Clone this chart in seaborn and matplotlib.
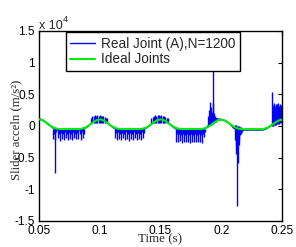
import numpy as np
import pandas as pd
import matplotlib
matplotlib.use("Agg")
import matplotlib.pyplot as plt
import seaborn as sns
from matplotlib.ticker import FuncFormatter, FixedLocator

# ---------------- data (m/s^2) ----------------
t_start, t_end, n_samples = 0.05, 0.25, 81
ideal_accel = [
    1050, 930, 650, 290, -50, -300, -440, -480, -480, -470, -460, -470, -480, -480, -440, -300, -50, 290, 650, 930,
    1050, 930, 650, 290, -50, -300, -440, -480, -480, -470, -460, -470, -480, -480, -440, -300, -50, 290, 650, 930,
    1050, 930, 650, 290, -50, -300, -440, -480, -480, -470, -460, -470, -480, -480, -440, -300, -50, 290, 650, 930,
    980, 880, 620, 270, -60, -310, -450, -490, -500, -490, -480, -490, -500, -490, -450, -310, -60, 270, 620, 900,
    1000,
]
real_accel = [
    1150, 1000, 700, 300, -100, -450, -600, -650, -650, -640, -630, -640, -650, -650, -600, -420, -80, 320, 750, 1050,
    1200, 1000, 700, 300, -100, -450, -600, -650, -650, -640, -630, -640, -650, -650, -600, -420, -80, 320, 750, 1050,
    1200, 1000, 700, 300, -100, -450, -600, -650, -650, -640, -630, -640, -650, -650, -600, -300, 200, 800, 1200, 1100,
    1050, 900, 650, 250, -300, -600, -650, -650, -650, -640, -630, -640, -650, -640, -600, -400, -80, 300, 700, 1000,
    1100,
]

# spikes of the real joint: (time window, spike tips, spike roots)
trough1_window = (0.0618, 0.0868)
trough1_tips = [-2100, -1200, -2200, -1000, -1900, -1300, -2300, -1100, -2000, -1200,
                -2150, -1000, -1950, -1250, -2250, -1100, -2050, -1300, -2200, -1000,
                -1900, -1200, -2100, -1100, -2000, -1300, -2250, -1000, -1850, -1200]
trough2_window = (0.1128, 0.1365)
trough2_tips = [-1900, -1100, -2200, -1000, -2100, -1300, -2250, -1100, -1950, -1200,
                -2200, -1000, -2000, -1300, -2300, -1100, -2100, -1200, -2150, -1000,
                -1950, -1300, -2200, -1100, -2050, -1200, -2250, -1000, -1900, -1100]
trough3_window = (0.1625, 0.1868)
trough3_tips = [-2500, -1300, -2600, -1200, -2400, -1500, -2650, -1300, -2450, -1400,
                -2600, -1200, -2500, -1500, -2700, -1300, -2550, -1400, -2600, -1200,
                -2450, -1500, -2600, -1300, -2500, -1400, -2650, -1200, -1800, -1000]
trough_root = -480

peak1_window = (0.0930, 0.1060)
peak1_tips = [1300, 1500, 1600, 1700, 1650, 1700, 1600, 1700, 1650, 1550, 1500, 1400, 1300, 1200]
peak2_window = (0.1425, 0.1560)
peak2_tips = [1300, 1450, 1600, 1700, 1650, 1700, 1700, 1650, 1700, 1600, 1500, 1400, 1300, 1200]
peak_root = 500

event_times = [0.0629,
               0.1895, 0.1902, 0.1908, 0.1915, 0.1921, 0.1928, 0.1934, 0.1940, 0.1947, 0.1953,
               0.2112, 0.2118, 0.2124, 0.2130, 0.2136, 0.2142, 0.2148, 0.2155, 0.2162, 0.2168,
               0.2415, 0.2422, 0.2430, 0.2438, 0.2446, 0.2454, 0.2462, 0.2470, 0.2478, 0.2486, 0.2494, 0.2500]
event_tips = [-7400,
              1500, 2500, 3800, 3000, 2200, 10000, 3600, 2000, 1500, 1300,
              -2200, -3000, -4500, -12700, -5800, -3000, -2200, -1500, -1200, -1000,
              5400, 3000, 3300, 3600, 3200, 3500, 3400, 3600, 3100, 3500, 3300, 3200]
event_roots = [-480,
               100, 100, 200, 200, 300, 300, 400, 500, 600, 700,
               200, 150, 100, 50, 0, -50, -100, -150, -200, -250,
               0, 0, 50, 100, 150, 200, 250, 300, 350, 400, 450, 500]

legend_labels = ["Real Joint (A),N=1200", "Ideal Joints"]
x_ticks = [0.05, 0.1, 0.15, 0.2, 0.25]
y_ticks = [-15000, -10000, -5000, 0, 5000, 10000, 15000]

# ---------------- build tables ----------------
time = np.linspace(t_start, t_end, n_samples)
df = pd.DataFrame({"time": time, "ideal": ideal_accel, "real": real_accel})

spk_t, spk_lo, spk_hi = [], [], []
for (a, b), tips, root in [(trough1_window, trough1_tips, trough_root),
                           (trough2_window, trough2_tips, trough_root),
                           (trough3_window, trough3_tips, trough_root),
                           (peak1_window, peak1_tips, peak_root),
                           (peak2_window, peak2_tips, peak_root)]:
    ts = np.linspace(a, b, len(tips))
    for tt, tip in zip(ts, tips):
        spk_t.append(tt)
        spk_lo.append(min(tip, root))
        spk_hi.append(max(tip, root))
for tt, tip, root in zip(event_times, event_tips, event_roots):
    spk_t.append(tt)
    spk_lo.append(min(tip, root))
    spk_hi.append(max(tip, root))

# ---------------- plot ----------------
sns.set_style("white")
plt.rcParams["font.family"] = ["Liberation Sans", "DejaVu Sans"]

fig = plt.figure(figsize=(2.96, 2.47), dpi=100)
ax = fig.add_axes([0.1318, 0.1053, 0.8209, 0.7692])

blue = "#0000ff"
green = "#00ee00"

ax.vlines(spk_t, spk_lo, spk_hi, color=blue, linewidth=1.0, zorder=2)
sns.lineplot(data=df, x="time", y="real", ax=ax, color=blue, linewidth=1.0,
             label=legend_labels[0], zorder=3)
sns.lineplot(data=df, x="time", y="ideal", ax=ax, color=green, linewidth=1.5,
             label=legend_labels[1], zorder=4)

ax.set_xlim(0.05, 0.25)
ax.set_ylim(-15000, 15000)
ax.xaxis.set_major_locator(FixedLocator(x_ticks))
ax.yaxis.set_major_locator(FixedLocator(y_ticks))
ax.xaxis.set_major_formatter(FuncFormatter(lambda v, p: f"{v:g}"))
ax.yaxis.set_major_formatter(FuncFormatter(lambda v, p: f"{v/1e4:g}"))

ax.tick_params(direction="in", length=3, width=0.8, top=True, right=True,
               labelsize=8.6, pad=3, colors="black")
for s in ax.spines.values():
    s.set_visible(True)
    s.set_color("black")
    s.set_linewidth(1.0)

ax.set_xlabel("Time (s)", family=["Liberation Serif"], fontsize=9.4, va="top")
ax.xaxis.set_label_coords(0.498, -0.063)
ax.set_ylabel("Slider acceln (m/s²)", family=["Liberation Serif"], fontsize=9.2, va="center")
ax.yaxis.set_label_coords(-0.092, 0.479)

ax.text(0.0, 1.012, "x 10", transform=ax.transAxes, fontsize=9.0, va="baseline", ha="left")
ax.text(0.1, 1.047, "4", transform=ax.transAxes, fontsize=6.8, va="baseline", ha="left")

leg = ax.legend(loc="upper left", bbox_to_anchor=(0.111, 0.993), borderaxespad=0,
                fontsize=9.8, frameon=True, fancybox=False, framealpha=1,
                edgecolor="black", handlelength=1.8, handletextpad=0.45,
                borderpad=0.32, labelspacing=0.12)
leg.get_frame().set_linewidth(1.0)

fig.savefig("out.png", dpi=100)
